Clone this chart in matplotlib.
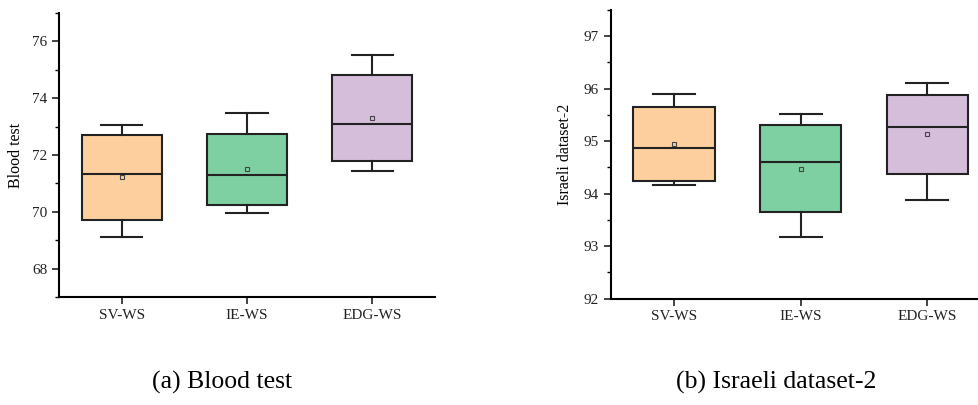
import matplotlib
matplotlib.use("Agg")
import matplotlib.pyplot as plt
from matplotlib.ticker import MultipleLocator

plt.rcParams['font.family'] = ['Liberation Serif', 'DejaVu Serif']

categories = ['SV-WS', 'IE-WS', 'EDG-WS']
colors = ['#FDCF9E', '#7ECFA1', '#D5BEDA']

# blood test panel: whislo, q1, median, q3, whishi, mean
blood_whislo = [69.11, 69.96, 71.44]
blood_q1 = [69.71, 70.25, 71.78]
blood_med = [71.33, 71.28, 73.10]
blood_q3 = [72.70, 72.73, 74.80]
blood_whishi = [73.07, 73.47, 75.52]
blood_mean = [71.22, 71.49, 73.29]

# israeli dataset-2 panel
isr_whislo = [94.16, 93.18, 93.88]
isr_q1 = [94.24, 93.65, 94.38]
isr_med = [94.87, 94.60, 95.28]
isr_q3 = [95.65, 95.31, 95.88]
isr_whishi = [95.90, 95.52, 96.10]
isr_mean = [94.95, 94.48, 95.14]


def make_stats(lo, q1, med, q3, hi, mean):
    stats = []
    for i in range(len(categories)):
        stats.append({'label': categories[i], 'whislo': lo[i], 'q1': q1[i],
                      'med': med[i], 'q3': q3[i], 'whishi': hi[i],
                      'mean': mean[i], 'fliers': []})
    return stats


def draw_panel(ax, stats, ylabel, ylim, major, minor, xmax):
    bp = ax.bxp(stats, positions=[1, 2, 3], widths=0.64, patch_artist=True,
                showmeans=True, showfliers=False,
                boxprops=dict(linewidth=1.5, edgecolor='#222222'),
                medianprops=dict(color='#222222', linewidth=1.5),
                whiskerprops=dict(color='#222222', linewidth=1.5),
                capprops=dict(color='#222222', linewidth=1.5),
                capwidths=0.33,
                meanprops=dict(marker='s', markersize=3.5, markerfacecolor='none',
                               markeredgecolor='#444444', markeredgewidth=0.8))
    for patch, c in zip(bp['boxes'], colors):
        patch.set_facecolor(c)
    ax.set_xlim(0.5, xmax)
    ax.set_ylim(*ylim)
    ax.yaxis.set_major_locator(MultipleLocator(major))
    ax.yaxis.set_minor_locator(MultipleLocator(minor))
    ax.spines['top'].set_visible(False)
    ax.spines['right'].set_visible(False)
    ax.spines['left'].set_linewidth(1.5)
    ax.spines['bottom'].set_linewidth(1.5)
    ax.tick_params(axis='both', which='major', direction='out', length=5,
                   width=1.2, labelsize=11, colors='#222222')
    ax.tick_params(axis='y', which='minor', direction='out', length=3, width=1.0)
    ax.set_ylabel(ylabel, fontsize=11.5)


fig = plt.figure(figsize=(9.79, 4.05), dpi=100)
ax1 = fig.add_axes([0.0603, 0.2667, 0.384, 0.7013])
ax2 = fig.add_axes([0.6238, 0.2625, 0.3752, 0.7128])

draw_panel(ax1, make_stats(blood_whislo, blood_q1, blood_med, blood_q3, blood_whishi, blood_mean),
           'Blood test', (67, 77), 2, 1, 3.5)
draw_panel(ax2, make_stats(isr_whislo, isr_q1, isr_med, isr_q3, isr_whishi, isr_mean),
           'Israeli dataset-2', (92, 97.5), 1, 0.5, 3.4)
ax1.yaxis.set_label_coords(-0.093, 0.5)
ax2.yaxis.set_label_coords(-0.102, 0.5)

fig.text(222 / 979, 1 - 382 / 405, '(a) Blood test', ha='center', va='center', fontsize=18.5)
fig.text(776 / 979, 1 - 382 / 405, '(b) Israeli dataset-2', ha='center', va='center', fontsize=18.5)

fig.savefig('out.png', dpi=100)
